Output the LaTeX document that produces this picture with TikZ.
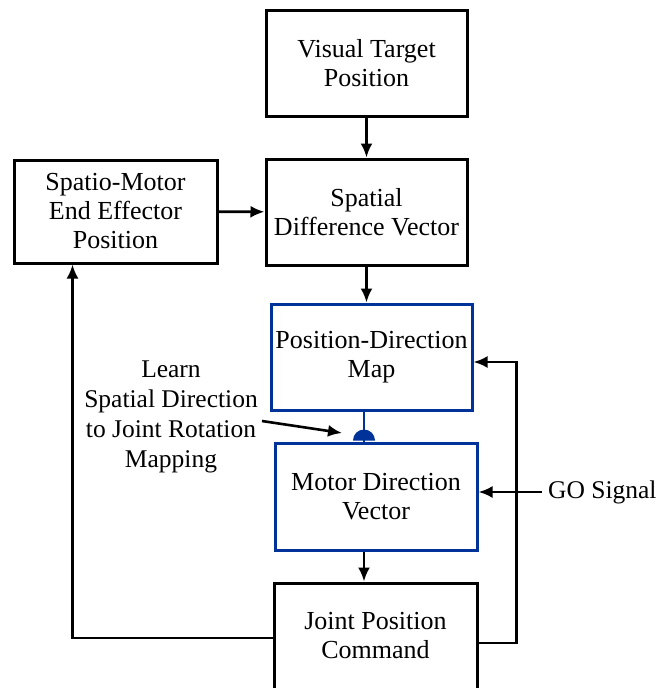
\documentclass[tikz,border=0pt]{standalone}
\usepackage{fontspec}
\setmainfont{Liberation Serif}
\usetikzlibrary{arrows.meta}
\definecolor{mapblue}{RGB}{0,51,153}
\tikzset{
	block/.style={draw, line width=3pt, minimum width=201pt, minimum height=106pt, inner sep=0pt, align=center, font=\fontsize{26}{29}\selectfont},
	blueblock/.style={block, draw=mapblue},
	plain/.style={align=center, inner sep=0pt, font=\fontsize{25.5}{30}\selectfont},
	link/.style={line width=2.6pt, -{Latex[length=14pt,width=12pt]}}
}

\begin{document}
\begin{tikzpicture}[x=1pt, y=-1pt]
			%%%%% START %%%%%
			
			\clip (0, 0) rectangle (661, 688);
			
			\node[block] (target) at (366.5, 63.5) {Visual Target\\Position};
			\node[block] (sdv) at (366.5, 212) {Spatial\\Difference Vector};
			\node[block, minimum width=203pt, minimum height=103pt] (spatio) at (115.5, 211.5) {Spatio-Motor\\End Effector\\Position};
			\node[blueblock] (pdm) at (371.5, 357) {Position-Direction\\Map};
			\node[blueblock, minimum width=202pt, minimum height=107pt] (mdv) at (376, 496.5) {Motor Direction\\Vector};
			\node[block, minimum width=203pt] (jpc) at (375.5, 636) {Joint Position\\Command};
			
			\node[plain] (learn) at (171, 417) {Learn\\Spatial Direction\\to Joint Rotation\\Mapping};
			\node[plain, anchor=west] (go) at (548, 492) {GO Signal};
			
			\coordinate (axis) at (364, 0);
			\coordinate (learnTip) at (342, 433);
			
			\draw[link] (target) -- (sdv);
			\draw[link] (spatio) -- (sdv);
			\draw[link] (sdv.south) -- (sdv.south |- pdm.north);
			\draw[link] (mdv.south -| axis) -- (jpc.north -| axis);
			
			\draw[line width=2.6pt, color=mapblue] (pdm.south -| axis) -- (mdv.north -| axis);
			\fill[mapblue] ([xshift=11pt, yshift=1pt]mdv.north -| axis) arc (0:180:11pt) -- cycle;
			
			\draw[link] ([shift={(4pt,-4pt)}]learn.east) -- (learnTip);
			\draw[link] ([xshift=-6pt]go.west) -- (go.west -| mdv.east);
			
			\draw[link] ([yshift=-7pt]jpc.east) -- ++(38, 0) |- ([yshift=-5pt]pdm.east);
			\draw[link] ([yshift=-2pt]jpc.west) -| ([xshift=-43pt]spatio.south);
			
			%%%%% END %%%%%
\end{tikzpicture}
\end{document}
